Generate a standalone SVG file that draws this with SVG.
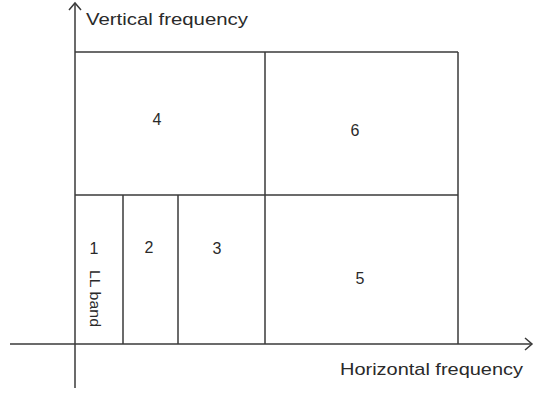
<svg xmlns="http://www.w3.org/2000/svg" width="534" height="394" viewBox="0 0 534 394">
<style>
.ln{stroke:#3a3a3a;stroke-width:1.5;fill:none}
.ax{stroke:#3a3a3a;stroke-width:1.5;fill:none}
.t{font-family:"Liberation Sans",Arial,sans-serif;fill:#2a2a2a}
.n{font-size:16px;text-anchor:middle}
.lab{font-size:17px}
</style>
<rect width="534" height="394" fill="#fff"/>
<g id="connectors">
<line class="ax" x1="75" y1="3" x2="75" y2="388"/>
<polyline class="ax" points="69,10 75,3 81,10"/>
<line class="ax" x1="10" y1="344" x2="532" y2="344"/>
<polyline class="ax" points="525,338 532,344 525,350"/>
</g>
<g id="grid">
<line class="ln" x1="75" y1="52" x2="458" y2="52"/>
<line class="ln" x1="75" y1="195" x2="458" y2="195"/>
<line class="ln" x1="458" y1="52" x2="458" y2="344"/>
<line class="ln" x1="265" y1="52" x2="265" y2="344"/>
<line class="ln" x1="123" y1="195" x2="123" y2="344"/>
<line class="ln" x1="178" y1="195" x2="178" y2="344"/>
</g>
<g id="band4"><text class="t n" x="157" y="125">4</text></g>
<g id="band6"><text class="t n" x="355" y="136">6</text></g>
<g id="band1"><text class="t n" x="94" y="254">1</text>
<text class="t" font-size="14" transform="translate(90,270) rotate(90)" textLength="57" lengthAdjust="spacingAndGlyphs">LL band</text></g>
<g id="band2"><text class="t n" x="149" y="253">2</text></g>
<g id="band3"><text class="t n" x="217" y="254">3</text></g>
<g id="band5"><text class="t n" x="360" y="284">5</text></g>
<g id="axis-labels">
<text class="t lab" x="86" y="25" textLength="162" lengthAdjust="spacingAndGlyphs">Vertical frequency</text>
<text class="t lab" x="340" y="375" textLength="183" lengthAdjust="spacingAndGlyphs">Horizontal frequency</text>
</g>
</svg>
